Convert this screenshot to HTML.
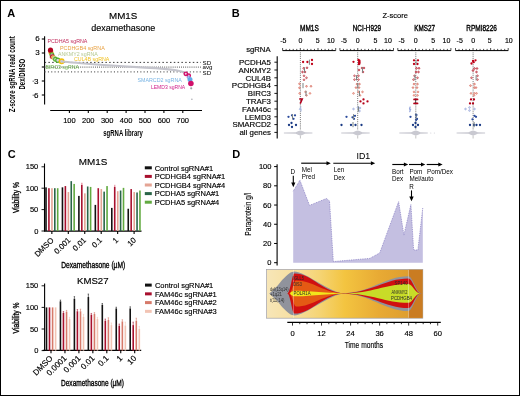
<!DOCTYPE html>
<html><head><meta charset="utf-8"><style>
html,body{margin:0;padding:0;background:#fff;}
body{width:520px;height:396px;overflow:hidden;}
svg{display:block;font-family:"Liberation Sans", sans-serif;will-change:transform;}
</style></head><body>
<svg width="520" height="396" viewBox="0 0 520 396">
<rect x="0" y="0" width="520" height="396" fill="#fff"/>
<text x="7.20" y="16.70" font-size="11" font-weight="bold">A</text>
<text x="123.20" y="19.00" font-size="9.8" stroke="#000" stroke-width="0.15" text-anchor="middle">MM1S</text>
<text x="123.30" y="31.00" font-size="9" stroke="#000" stroke-width="0.15" text-anchor="middle">dexamethasone</text>
<line x1="44.60" y1="36.20" x2="44.60" y2="104.50" stroke="#000" stroke-width="1.1"/>
<line x1="41.80" y1="39.00" x2="44.60" y2="39.00" stroke="#000" stroke-width="1.1"/>
<text x="39.70" y="41.40" font-size="8.0" stroke="#000" stroke-width="0.15" text-anchor="end">6</text>
<line x1="41.80" y1="53.00" x2="44.60" y2="53.00" stroke="#000" stroke-width="1.1"/>
<text x="39.70" y="55.40" font-size="8.0" stroke="#000" stroke-width="0.15" text-anchor="end">3</text>
<line x1="41.80" y1="67.00" x2="44.60" y2="67.00" stroke="#000" stroke-width="1.1"/>
<line x1="41.80" y1="81.00" x2="44.60" y2="81.00" stroke="#000" stroke-width="1.1"/>
<text x="38.40" y="83.60" font-size="8.0" stroke="#000" stroke-width="0.15" text-anchor="end">3</text>
<line x1="32.60" y1="81.20" x2="33.90" y2="81.20" stroke="#333" stroke-width="0.8"/>
<line x1="41.80" y1="95.00" x2="44.60" y2="95.00" stroke="#000" stroke-width="1.1"/>
<text x="38.40" y="97.60" font-size="8.0" stroke="#000" stroke-width="0.15" text-anchor="end">6</text>
<line x1="32.60" y1="95.20" x2="33.90" y2="95.20" stroke="#333" stroke-width="0.8"/>
<text x="15.40" y="74.30" font-size="8.6" text-anchor="middle" font-weight="bold" textLength="76" lengthAdjust="spacingAndGlyphs" transform="rotate(-90 15.40 74.30)">Z-score sgRNA read count</text>
<text x="25.50" y="74.20" font-size="9.2" text-anchor="middle" font-weight="bold" textLength="30.5" lengthAdjust="spacingAndGlyphs" transform="rotate(-90 25.50 74.20)">Dex/DMSO</text>
<line x1="50.20" y1="110.50" x2="202.00" y2="110.50" stroke="#000" stroke-width="1.1"/>
<line x1="69.40" y1="110.50" x2="69.40" y2="113.00" stroke="#000" stroke-width="1.1"/>
<text x="69.40" y="123.20" font-size="7.5" stroke="#000" stroke-width="0.15" text-anchor="middle">100</text>
<line x1="88.30" y1="110.50" x2="88.30" y2="113.00" stroke="#000" stroke-width="1.1"/>
<text x="88.30" y="123.20" font-size="7.5" stroke="#000" stroke-width="0.15" text-anchor="middle">200</text>
<line x1="107.20" y1="110.50" x2="107.20" y2="113.00" stroke="#000" stroke-width="1.1"/>
<text x="107.20" y="123.20" font-size="7.5" stroke="#000" stroke-width="0.15" text-anchor="middle">300</text>
<line x1="126.10" y1="110.50" x2="126.10" y2="113.00" stroke="#000" stroke-width="1.1"/>
<text x="126.10" y="123.20" font-size="7.5" stroke="#000" stroke-width="0.15" text-anchor="middle">400</text>
<line x1="145.00" y1="110.50" x2="145.00" y2="113.00" stroke="#000" stroke-width="1.1"/>
<text x="145.00" y="123.20" font-size="7.5" stroke="#000" stroke-width="0.15" text-anchor="middle">500</text>
<line x1="163.90" y1="110.50" x2="163.90" y2="113.00" stroke="#000" stroke-width="1.1"/>
<text x="163.90" y="123.20" font-size="7.5" stroke="#000" stroke-width="0.15" text-anchor="middle">600</text>
<line x1="182.80" y1="110.50" x2="182.80" y2="113.00" stroke="#000" stroke-width="1.1"/>
<text x="182.80" y="123.20" font-size="7.5" stroke="#000" stroke-width="0.15" text-anchor="middle">700</text>
<text x="123.10" y="136.40" font-size="8.8" text-anchor="middle" font-weight="bold" textLength="39.6" lengthAdjust="spacingAndGlyphs">sgRNA library</text>
<line x1="44.60" y1="62.40" x2="201.00" y2="62.40" stroke="#222" stroke-width="0.9" stroke-dasharray="1.5 2.3"/>
<line x1="44.60" y1="67.10" x2="201.00" y2="67.10" stroke="#555" stroke-width="1.3" stroke-dasharray="0.8 1.3"/>
<line x1="44.60" y1="71.80" x2="201.00" y2="71.80" stroke="#666" stroke-width="1.3" stroke-dasharray="1.1 2.2"/>
<text x="202.50" y="64.70" font-size="6.2">SD</text>
<text x="202.50" y="68.90" font-size="6.2">avg</text>
<text x="202.50" y="75.10" font-size="6.2">SD</text>
<circle cx="51.00" cy="52.40" r="2.50" fill="#f0a020"/>
<circle cx="50.50" cy="50.20" r="2.60" fill="#b0001e"/>
<circle cx="51.90" cy="54.80" r="1.85" fill="#d8d0f0" stroke="#58b030" stroke-width="1.3"/>
<circle cx="51.00" cy="57.10" r="1.60" fill="#f0a0c0"/>
<circle cx="52.40" cy="56.70" r="1.75" fill="#f0e0e0" stroke="#b01030" stroke-width="1.3"/>
<circle cx="53.50" cy="57.60" r="1.75" fill="#f4e8d0" stroke="#f0a030" stroke-width="1.3"/>
<circle cx="54.60" cy="58.30" r="1.75" fill="#eef0e8" stroke="#b8cc90" stroke-width="1.3"/>
<circle cx="55.50" cy="59.20" r="1.85" fill="#e0e8f0" stroke="#58b030" stroke-width="1.3"/>
<circle cx="57.80" cy="60.30" r="2.05" fill="#d8d0f0" stroke="#58b030" stroke-width="1.3"/>
<circle cx="61.60" cy="61.30" r="2.20" fill="#c8c8f0" stroke="#f0c010" stroke-width="1.6"/>
<path d="M61.6 61.5 C70 62.4 80 63.2 100 64.7 S130 66.8 145 67.6 S170 69.2 176 70.2 S184 72 187 74" fill="none" stroke="#c4c4cc" stroke-width="2.1" stroke-linecap="round"/>
<circle cx="185.80" cy="73.80" r="1.70" fill="#f0c8e0" stroke="#d0106a" stroke-width="1.4"/>
<circle cx="188.80" cy="75.60" r="1.60" fill="#f0c8e0" stroke="#d0106a" stroke-width="1.4"/>
<circle cx="188.50" cy="77.30" r="1.30" fill="#c0d8f0" stroke="#9090e0" stroke-width="1.0"/>
<circle cx="190.00" cy="79.40" r="2.50" fill="#64a8e8"/>
<circle cx="190.90" cy="83.50" r="2.80" fill="#d0106a"/>
<circle cx="191.20" cy="88.30" r="1.10" fill="#a0a0a8"/>
<circle cx="191.90" cy="99.20" r="0.70" fill="#a0a0a8"/>
<text x="47.40" y="43.10" font-size="6.1" fill="#c0285a" textLength="40" lengthAdjust="spacingAndGlyphs">PCDHA5 sgRNA</text>
<text x="60.00" y="50.30" font-size="6.1" fill="#e8a040" textLength="44.8" lengthAdjust="spacingAndGlyphs">PCDHGB4 sgRNA</text>
<text x="58.00" y="55.80" font-size="6.1" fill="#b4c890" textLength="39.8" lengthAdjust="spacingAndGlyphs">ANKMY2 sgRNA</text>
<text x="74.00" y="60.70" font-size="6.1" fill="#f0c020" textLength="35.4" lengthAdjust="spacingAndGlyphs">CUL4B sgRNA</text>
<text x="45.40" y="69.30" font-size="6.1" fill="#6cb04c" textLength="33.6" lengthAdjust="spacingAndGlyphs">BIRC3 sgRNA</text>
<text x="137.40" y="81.50" font-size="6.1" fill="#78b4e4" textLength="44.4" lengthAdjust="spacingAndGlyphs">SMARCD2 sgRNA</text>
<text x="150.90" y="89.10" font-size="6.1" fill="#d0208a" textLength="34.3" lengthAdjust="spacingAndGlyphs">LEMD3 sgRNA</text>
<text x="231.80" y="16.70" font-size="11" font-weight="bold">B</text>
<text x="382.50" y="17.70" font-size="7.5" stroke="#000" stroke-width="0.15">Z-score</text>
<text x="246.20" y="52.30" font-size="7.7" stroke="#000" stroke-width="0.15">sgRNA</text>
<line x1="277.20" y1="56.20" x2="277.20" y2="138.60" stroke="#000" stroke-width="1.1"/>
<line x1="274.40" y1="62.20" x2="277.20" y2="62.20" stroke="#000" stroke-width="0.9"/>
<text x="271.00" y="65.05" font-size="7.9" stroke="#000" stroke-width="0.15" text-anchor="end">PCDHA5</text>
<line x1="274.40" y1="70.00" x2="277.20" y2="70.00" stroke="#000" stroke-width="0.9"/>
<text x="271.00" y="72.85" font-size="7.9" stroke="#000" stroke-width="0.15" text-anchor="end">ANKMY2</text>
<line x1="274.40" y1="77.80" x2="277.20" y2="77.80" stroke="#000" stroke-width="0.9"/>
<text x="271.00" y="80.65" font-size="7.9" stroke="#000" stroke-width="0.15" text-anchor="end">CUL4B</text>
<line x1="274.40" y1="85.60" x2="277.20" y2="85.60" stroke="#000" stroke-width="0.9"/>
<text x="271.00" y="88.45" font-size="7.9" stroke="#000" stroke-width="0.15" text-anchor="end" textLength="39.2" lengthAdjust="spacingAndGlyphs">PCDHGB4</text>
<line x1="274.40" y1="93.40" x2="277.20" y2="93.40" stroke="#000" stroke-width="0.9"/>
<text x="271.00" y="96.25" font-size="7.9" stroke="#000" stroke-width="0.15" text-anchor="end">BIRC3</text>
<line x1="274.40" y1="101.20" x2="277.20" y2="101.20" stroke="#000" stroke-width="0.9"/>
<text x="271.00" y="104.05" font-size="7.9" stroke="#000" stroke-width="0.15" text-anchor="end">TRAF3</text>
<line x1="274.40" y1="109.00" x2="277.20" y2="109.00" stroke="#000" stroke-width="0.9"/>
<text x="271.00" y="111.85" font-size="7.9" stroke="#000" stroke-width="0.15" text-anchor="end">FAM46c</text>
<line x1="274.40" y1="116.80" x2="277.20" y2="116.80" stroke="#000" stroke-width="0.9"/>
<text x="271.00" y="119.65" font-size="7.9" stroke="#000" stroke-width="0.15" text-anchor="end">LEMD3</text>
<line x1="274.40" y1="124.60" x2="277.20" y2="124.60" stroke="#000" stroke-width="0.9"/>
<text x="271.00" y="127.45" font-size="7.9" stroke="#000" stroke-width="0.15" text-anchor="end">SMARCD2</text>
<line x1="274.40" y1="132.40" x2="277.20" y2="132.40" stroke="#000" stroke-width="0.9"/>
<text x="271.00" y="135.25" font-size="7.9" stroke="#000" stroke-width="0.15" text-anchor="end">all genes</text>
<line x1="282.60" y1="50.60" x2="335.70" y2="50.60" stroke="#000" stroke-width="1"/>
<line x1="282.60" y1="50.60" x2="282.60" y2="48.00" stroke="#000" stroke-width="0.7"/>
<line x1="286.14" y1="50.60" x2="286.14" y2="48.90" stroke="#000" stroke-width="0.7"/>
<line x1="289.68" y1="50.60" x2="289.68" y2="48.90" stroke="#000" stroke-width="0.7"/>
<line x1="293.22" y1="50.60" x2="293.22" y2="48.90" stroke="#000" stroke-width="0.7"/>
<line x1="296.76" y1="50.60" x2="296.76" y2="48.90" stroke="#000" stroke-width="0.7"/>
<line x1="300.30" y1="50.60" x2="300.30" y2="48.00" stroke="#000" stroke-width="0.7"/>
<line x1="303.84" y1="50.60" x2="303.84" y2="48.90" stroke="#000" stroke-width="0.7"/>
<line x1="307.38" y1="50.60" x2="307.38" y2="48.90" stroke="#000" stroke-width="0.7"/>
<line x1="310.92" y1="50.60" x2="310.92" y2="48.90" stroke="#000" stroke-width="0.7"/>
<line x1="314.46" y1="50.60" x2="314.46" y2="48.90" stroke="#000" stroke-width="0.7"/>
<line x1="318.00" y1="50.60" x2="318.00" y2="48.00" stroke="#000" stroke-width="0.7"/>
<line x1="321.54" y1="50.60" x2="321.54" y2="48.90" stroke="#000" stroke-width="0.7"/>
<line x1="325.08" y1="50.60" x2="325.08" y2="48.90" stroke="#000" stroke-width="0.7"/>
<line x1="328.62" y1="50.60" x2="328.62" y2="48.90" stroke="#000" stroke-width="0.7"/>
<line x1="332.16" y1="50.60" x2="332.16" y2="48.90" stroke="#000" stroke-width="0.7"/>
<line x1="335.70" y1="50.60" x2="335.70" y2="48.00" stroke="#000" stroke-width="0.7"/>
<text x="283.30" y="43.10" font-size="7" stroke="#000" stroke-width="0.15" text-anchor="middle">-5</text>
<text x="300.40" y="43.10" font-size="7" stroke="#000" stroke-width="0.15" text-anchor="middle">0</text>
<text x="317.70" y="43.10" font-size="7" stroke="#000" stroke-width="0.15" text-anchor="middle">5</text>
<text x="330.80" y="43.10" font-size="7" stroke="#000" stroke-width="0.15" text-anchor="middle">10</text>
<text x="309.40" y="30.70" font-size="9.3" stroke="#000" stroke-width="0.4" text-anchor="middle" textLength="18.7" lengthAdjust="spacingAndGlyphs">MM1S</text>
<line x1="300.40" y1="52.50" x2="300.40" y2="130.00" stroke="#333" stroke-width="0.8" stroke-dasharray="0.8 1.1"/>
<path d="M283.9 132.5 L295.8 132.2 Q298.9 130.7 300.4 130.6 Q301.9 130.7 305.0 132.2 L312.4 132.5 L312.4 133.5 L305.0 133.8 Q301.9 135.3 300.4 135.4 Q298.9 135.3 295.8 133.8 L283.9 133.5 Z" fill="#c9c9d1"/>
<line x1="300.40" y1="135.50" x2="300.40" y2="138.50" stroke="#aaa" stroke-width="0.7"/>
<line x1="339.90" y1="50.60" x2="393.50" y2="50.60" stroke="#000" stroke-width="1"/>
<line x1="339.90" y1="50.60" x2="339.90" y2="48.00" stroke="#000" stroke-width="0.7"/>
<line x1="343.47" y1="50.60" x2="343.47" y2="48.90" stroke="#000" stroke-width="0.7"/>
<line x1="347.05" y1="50.60" x2="347.05" y2="48.90" stroke="#000" stroke-width="0.7"/>
<line x1="350.62" y1="50.60" x2="350.62" y2="48.90" stroke="#000" stroke-width="0.7"/>
<line x1="354.19" y1="50.60" x2="354.19" y2="48.90" stroke="#000" stroke-width="0.7"/>
<line x1="357.77" y1="50.60" x2="357.77" y2="48.00" stroke="#000" stroke-width="0.7"/>
<line x1="361.34" y1="50.60" x2="361.34" y2="48.90" stroke="#000" stroke-width="0.7"/>
<line x1="364.91" y1="50.60" x2="364.91" y2="48.90" stroke="#000" stroke-width="0.7"/>
<line x1="368.49" y1="50.60" x2="368.49" y2="48.90" stroke="#000" stroke-width="0.7"/>
<line x1="372.06" y1="50.60" x2="372.06" y2="48.90" stroke="#000" stroke-width="0.7"/>
<line x1="375.63" y1="50.60" x2="375.63" y2="48.00" stroke="#000" stroke-width="0.7"/>
<line x1="379.21" y1="50.60" x2="379.21" y2="48.90" stroke="#000" stroke-width="0.7"/>
<line x1="382.78" y1="50.60" x2="382.78" y2="48.90" stroke="#000" stroke-width="0.7"/>
<line x1="386.35" y1="50.60" x2="386.35" y2="48.90" stroke="#000" stroke-width="0.7"/>
<line x1="389.93" y1="50.60" x2="389.93" y2="48.90" stroke="#000" stroke-width="0.7"/>
<line x1="393.50" y1="50.60" x2="393.50" y2="48.00" stroke="#000" stroke-width="0.7"/>
<text x="343.90" y="43.10" font-size="7" stroke="#000" stroke-width="0.15" text-anchor="middle">-5</text>
<text x="357.70" y="43.10" font-size="7" stroke="#000" stroke-width="0.15" text-anchor="middle">0</text>
<text x="375.50" y="43.10" font-size="7" stroke="#000" stroke-width="0.15" text-anchor="middle">5</text>
<text x="388.00" y="43.10" font-size="7" stroke="#000" stroke-width="0.15" text-anchor="middle">10</text>
<text x="366.90" y="30.70" font-size="9.3" stroke="#000" stroke-width="0.4" text-anchor="middle" textLength="28.3" lengthAdjust="spacingAndGlyphs">NCI-H929</text>
<line x1="357.70" y1="52.50" x2="357.70" y2="130.00" stroke="#333" stroke-width="0.8" stroke-dasharray="0.8 1.1"/>
<path d="M341.2 132.5 L353.1 132.2 Q356.2 130.7 357.7 130.6 Q359.2 130.7 362.3 132.2 L369.7 132.5 L369.7 133.5 L362.3 133.8 Q359.2 135.3 357.7 135.4 Q356.2 135.3 353.1 133.8 L341.2 133.5 Z" fill="#c9c9d1"/>
<line x1="357.70" y1="135.50" x2="357.70" y2="138.50" stroke="#aaa" stroke-width="0.7"/>
<line x1="397.80" y1="50.60" x2="450.90" y2="50.60" stroke="#000" stroke-width="1"/>
<line x1="397.80" y1="50.60" x2="397.80" y2="48.00" stroke="#000" stroke-width="0.7"/>
<line x1="401.34" y1="50.60" x2="401.34" y2="48.90" stroke="#000" stroke-width="0.7"/>
<line x1="404.88" y1="50.60" x2="404.88" y2="48.90" stroke="#000" stroke-width="0.7"/>
<line x1="408.42" y1="50.60" x2="408.42" y2="48.90" stroke="#000" stroke-width="0.7"/>
<line x1="411.96" y1="50.60" x2="411.96" y2="48.90" stroke="#000" stroke-width="0.7"/>
<line x1="415.50" y1="50.60" x2="415.50" y2="48.00" stroke="#000" stroke-width="0.7"/>
<line x1="419.04" y1="50.60" x2="419.04" y2="48.90" stroke="#000" stroke-width="0.7"/>
<line x1="422.58" y1="50.60" x2="422.58" y2="48.90" stroke="#000" stroke-width="0.7"/>
<line x1="426.12" y1="50.60" x2="426.12" y2="48.90" stroke="#000" stroke-width="0.7"/>
<line x1="429.66" y1="50.60" x2="429.66" y2="48.90" stroke="#000" stroke-width="0.7"/>
<line x1="433.20" y1="50.60" x2="433.20" y2="48.00" stroke="#000" stroke-width="0.7"/>
<line x1="436.74" y1="50.60" x2="436.74" y2="48.90" stroke="#000" stroke-width="0.7"/>
<line x1="440.28" y1="50.60" x2="440.28" y2="48.90" stroke="#000" stroke-width="0.7"/>
<line x1="443.82" y1="50.60" x2="443.82" y2="48.90" stroke="#000" stroke-width="0.7"/>
<line x1="447.36" y1="50.60" x2="447.36" y2="48.90" stroke="#000" stroke-width="0.7"/>
<line x1="450.90" y1="50.60" x2="450.90" y2="48.00" stroke="#000" stroke-width="0.7"/>
<text x="401.60" y="43.10" font-size="7" stroke="#000" stroke-width="0.15" text-anchor="middle">-5</text>
<text x="415.80" y="43.10" font-size="7" stroke="#000" stroke-width="0.15" text-anchor="middle">0</text>
<text x="433.10" y="43.10" font-size="7" stroke="#000" stroke-width="0.15" text-anchor="middle">5</text>
<text x="446.40" y="43.10" font-size="7" stroke="#000" stroke-width="0.15" text-anchor="middle">10</text>
<text x="424.60" y="30.70" font-size="9.3" stroke="#000" stroke-width="0.4" text-anchor="middle" textLength="20.7" lengthAdjust="spacingAndGlyphs">KMS27</text>
<line x1="415.80" y1="52.50" x2="415.80" y2="130.00" stroke="#333" stroke-width="0.8" stroke-dasharray="0.8 1.1"/>
<path d="M399.3 132.5 L411.2 132.2 Q414.3 130.7 415.8 130.6 Q417.3 130.7 420.4 132.2 L427.8 132.5 L427.8 133.5 L420.4 133.8 Q417.3 135.3 415.8 135.4 Q414.3 135.3 411.2 133.8 L399.3 133.5 Z" fill="#c9c9d1"/>
<line x1="415.80" y1="135.50" x2="415.80" y2="138.50" stroke="#aaa" stroke-width="0.7"/>
<line x1="455.50" y1="50.60" x2="508.20" y2="50.60" stroke="#000" stroke-width="1"/>
<line x1="455.50" y1="50.60" x2="455.50" y2="48.00" stroke="#000" stroke-width="0.7"/>
<line x1="459.01" y1="50.60" x2="459.01" y2="48.90" stroke="#000" stroke-width="0.7"/>
<line x1="462.53" y1="50.60" x2="462.53" y2="48.90" stroke="#000" stroke-width="0.7"/>
<line x1="466.04" y1="50.60" x2="466.04" y2="48.90" stroke="#000" stroke-width="0.7"/>
<line x1="469.55" y1="50.60" x2="469.55" y2="48.90" stroke="#000" stroke-width="0.7"/>
<line x1="473.07" y1="50.60" x2="473.07" y2="48.00" stroke="#000" stroke-width="0.7"/>
<line x1="476.58" y1="50.60" x2="476.58" y2="48.90" stroke="#000" stroke-width="0.7"/>
<line x1="480.09" y1="50.60" x2="480.09" y2="48.90" stroke="#000" stroke-width="0.7"/>
<line x1="483.61" y1="50.60" x2="483.61" y2="48.90" stroke="#000" stroke-width="0.7"/>
<line x1="487.12" y1="50.60" x2="487.12" y2="48.90" stroke="#000" stroke-width="0.7"/>
<line x1="490.63" y1="50.60" x2="490.63" y2="48.00" stroke="#000" stroke-width="0.7"/>
<line x1="494.15" y1="50.60" x2="494.15" y2="48.90" stroke="#000" stroke-width="0.7"/>
<line x1="497.66" y1="50.60" x2="497.66" y2="48.90" stroke="#000" stroke-width="0.7"/>
<line x1="501.17" y1="50.60" x2="501.17" y2="48.90" stroke="#000" stroke-width="0.7"/>
<line x1="504.69" y1="50.60" x2="504.69" y2="48.90" stroke="#000" stroke-width="0.7"/>
<line x1="508.20" y1="50.60" x2="508.20" y2="48.00" stroke="#000" stroke-width="0.7"/>
<text x="459.70" y="43.10" font-size="7" stroke="#000" stroke-width="0.15" text-anchor="middle">-5</text>
<text x="473.10" y="43.10" font-size="7" stroke="#000" stroke-width="0.15" text-anchor="middle">0</text>
<text x="489.70" y="43.10" font-size="7" stroke="#000" stroke-width="0.15" text-anchor="middle">5</text>
<text x="508.80" y="43.10" font-size="7" stroke="#000" stroke-width="0.15" text-anchor="middle">10</text>
<text x="481.60" y="30.70" font-size="9.3" stroke="#000" stroke-width="0.4" text-anchor="middle" textLength="30.7" lengthAdjust="spacingAndGlyphs">RPMI8226</text>
<line x1="473.10" y1="52.50" x2="473.10" y2="130.00" stroke="#333" stroke-width="0.8" stroke-dasharray="0.8 1.1"/>
<path d="M456.6 132.5 L468.5 132.2 Q471.6 130.7 473.1 130.6 Q474.6 130.7 477.7 132.2 L485.1 132.5 L485.1 133.5 L477.7 133.8 Q474.6 135.3 473.1 135.4 Q471.6 135.3 468.5 133.8 L456.6 133.5 Z" fill="#c9c9d1"/>
<line x1="473.10" y1="135.50" x2="473.10" y2="138.50" stroke="#aaa" stroke-width="0.7"/>
<circle cx="430.80" cy="133.00" r="0.50" fill="#c6c6ce"/>
<rect x="358.3" y="59.6" width="2.2" height="5.2" rx="1" fill="#c00018"/>
<rect x="413.2" y="98.4" width="5.2" height="1.9" rx="0.9" fill="#b40018"/>
<rect x="413.2" y="102.4" width="5.2" height="1.9" rx="0.9" fill="#b40018"/>
<line x1="415.60" y1="99.70" x2="415.60" y2="103.00" stroke="#333" stroke-width="0.8"/>
<path d="M410.4 106.6 q-1.4 1.6 -0.5 3.0 q0.9 1.4 -0.5 2.4 M409.2 109.4 h2" fill="none" stroke="#98a8dc" stroke-width="1.3"/>
<path d="M416.4 113.8 q1.6 1.2 0 2.4 q-1.6 1.2 0 2.4 q1.4 1.0 0 2.2" fill="none" stroke="#2a4a9c" stroke-width="1.0"/>
<circle cx="434.30" cy="133.00" r="0.50" fill="#c6c6ce"/>
<circle cx="303.10" cy="62.00" r="1.15" fill="#c00018"/>
<circle cx="307.40" cy="62.00" r="1.15" fill="#c00018"/>
<circle cx="312.00" cy="60.00" r="1.15" fill="#c00018"/>
<circle cx="312.00" cy="64.00" r="1.15" fill="#c00018"/>
<circle cx="303.70" cy="68.30" r="0.80" fill="#f4e4e4" stroke="#b82030" stroke-width="0.85"/>
<circle cx="307.00" cy="67.80" r="0.80" fill="#f4e4e4" stroke="#b82030" stroke-width="0.85"/>
<circle cx="302.50" cy="72.00" r="0.80" fill="#f4e4e4" stroke="#b82030" stroke-width="0.85"/>
<circle cx="305.00" cy="72.00" r="0.80" fill="#f4e4e4" stroke="#b82030" stroke-width="0.85"/>
<circle cx="304.00" cy="75.80" r="0.80" fill="#f4e4e4" stroke="#c04048" stroke-width="0.85"/>
<circle cx="306.50" cy="77.80" r="0.80" fill="#f4e4e4" stroke="#c04048" stroke-width="0.85"/>
<circle cx="304.00" cy="79.80" r="0.80" fill="#f4e4e4" stroke="#c04048" stroke-width="0.85"/>
<circle cx="299.50" cy="83.80" r="0.80" fill="#f4e4e4" stroke="#d86a5c" stroke-width="0.85"/>
<circle cx="299.50" cy="87.80" r="0.80" fill="#f4e4e4" stroke="#d86a5c" stroke-width="0.85"/>
<circle cx="306.50" cy="86.30" r="0.80" fill="#f4e4e4" stroke="#d86a5c" stroke-width="0.85"/>
<circle cx="311.00" cy="86.30" r="0.80" fill="#f4e4e4" stroke="#d86a5c" stroke-width="0.85"/>
<circle cx="299.60" cy="93.40" r="0.80" fill="#f4e4e4" stroke="#e07a68" stroke-width="0.85"/>
<circle cx="305.50" cy="91.90" r="0.80" fill="#f4e4e4" stroke="#e07a68" stroke-width="0.85"/>
<circle cx="306.50" cy="95.40" r="0.80" fill="#f4e4e4" stroke="#e07a68" stroke-width="0.85"/>
<circle cx="310.00" cy="93.40" r="0.80" fill="#f4e4e4" stroke="#e07a68" stroke-width="0.85"/>
<circle cx="288.50" cy="116.80" r="1.15" fill="#2a4a9c"/>
<circle cx="292.00" cy="115.30" r="1.15" fill="#2a4a9c"/>
<circle cx="295.00" cy="115.30" r="1.15" fill="#2a4a9c"/>
<circle cx="293.50" cy="118.80" r="1.15" fill="#2a4a9c"/>
<circle cx="289.00" cy="125.00" r="1.15" fill="#1a3a84"/>
<circle cx="291.50" cy="123.00" r="1.15" fill="#1a3a84"/>
<circle cx="292.00" cy="127.00" r="1.15" fill="#1a3a84"/>
<circle cx="296.00" cy="125.00" r="1.15" fill="#1a3a84"/>
<circle cx="353.50" cy="61.80" r="1.15" fill="#c00018"/>
<circle cx="358.50" cy="60.00" r="1.15" fill="#c00018"/>
<circle cx="359.20" cy="62.20" r="1.15" fill="#c00018"/>
<circle cx="358.90" cy="64.20" r="1.15" fill="#c00018"/>
<circle cx="359.00" cy="70.00" r="0.80" fill="#f4e4e4" stroke="#b82030" stroke-width="0.85"/>
<circle cx="362.00" cy="68.00" r="0.80" fill="#f4e4e4" stroke="#b82030" stroke-width="0.85"/>
<circle cx="364.00" cy="68.00" r="0.80" fill="#f4e4e4" stroke="#b82030" stroke-width="0.85"/>
<circle cx="363.00" cy="72.00" r="0.80" fill="#f4e4e4" stroke="#b82030" stroke-width="0.85"/>
<circle cx="354.50" cy="75.80" r="0.80" fill="#f4e4e4" stroke="#c04048" stroke-width="0.85"/>
<circle cx="358.50" cy="75.80" r="0.80" fill="#f4e4e4" stroke="#c04048" stroke-width="0.85"/>
<circle cx="354.50" cy="79.60" r="0.80" fill="#f4e4e4" stroke="#c04048" stroke-width="0.85"/>
<circle cx="358.50" cy="79.60" r="0.80" fill="#f4e4e4" stroke="#c04048" stroke-width="0.85"/>
<circle cx="357.00" cy="84.10" r="0.80" fill="#f4e4e4" stroke="#d86a5c" stroke-width="0.85"/>
<circle cx="359.50" cy="84.10" r="0.80" fill="#f4e4e4" stroke="#d86a5c" stroke-width="0.85"/>
<circle cx="356.00" cy="87.60" r="0.80" fill="#f4e4e4" stroke="#d86a5c" stroke-width="0.85"/>
<circle cx="359.00" cy="87.60" r="0.80" fill="#f4e4e4" stroke="#d86a5c" stroke-width="0.85"/>
<circle cx="353.50" cy="93.40" r="0.80" fill="#f4e4e4" stroke="#e07a68" stroke-width="0.85"/>
<circle cx="358.50" cy="91.90" r="0.80" fill="#f4e4e4" stroke="#e07a68" stroke-width="0.85"/>
<circle cx="362.50" cy="91.90" r="0.80" fill="#f4e4e4" stroke="#e07a68" stroke-width="0.85"/>
<circle cx="360.00" cy="95.40" r="0.80" fill="#f4e4e4" stroke="#e07a68" stroke-width="0.85"/>
<circle cx="360.50" cy="101.40" r="1.15" fill="#b40018"/>
<circle cx="363.50" cy="99.40" r="1.15" fill="#b40018"/>
<circle cx="363.50" cy="103.40" r="1.15" fill="#b40018"/>
<circle cx="367.50" cy="101.40" r="1.15" fill="#b40018"/>
<circle cx="353.50" cy="109.00" r="0.80" fill="#eef0fa" stroke="#98a8dc" stroke-width="0.85"/>
<circle cx="358.00" cy="107.50" r="0.80" fill="#eef0fa" stroke="#98a8dc" stroke-width="0.85"/>
<circle cx="360.00" cy="108.00" r="0.80" fill="#eef0fa" stroke="#98a8dc" stroke-width="0.85"/>
<circle cx="359.50" cy="111.00" r="0.80" fill="#eef0fa" stroke="#98a8dc" stroke-width="0.85"/>
<circle cx="346.50" cy="116.80" r="1.15" fill="#2a4a9c"/>
<circle cx="352.50" cy="117.30" r="1.15" fill="#2a4a9c"/>
<circle cx="355.00" cy="115.80" r="1.15" fill="#2a4a9c"/>
<circle cx="354.00" cy="118.80" r="1.15" fill="#2a4a9c"/>
<circle cx="341.50" cy="125.00" r="1.15" fill="#1a3a84"/>
<circle cx="351.00" cy="125.00" r="1.15" fill="#1a3a84"/>
<circle cx="355.50" cy="125.00" r="1.15" fill="#1a3a84"/>
<circle cx="361.50" cy="125.00" r="1.15" fill="#1a3a84"/>
<circle cx="414.00" cy="60.30" r="1.15" fill="#c00018"/>
<circle cx="418.00" cy="60.30" r="1.15" fill="#c00018"/>
<circle cx="414.00" cy="64.00" r="1.15" fill="#c00018"/>
<circle cx="417.50" cy="64.00" r="1.15" fill="#c00018"/>
<circle cx="416.50" cy="68.30" r="0.80" fill="#f4e4e4" stroke="#b82030" stroke-width="0.85"/>
<circle cx="419.00" cy="68.30" r="0.80" fill="#f4e4e4" stroke="#b82030" stroke-width="0.85"/>
<circle cx="416.00" cy="72.00" r="0.80" fill="#f4e4e4" stroke="#b82030" stroke-width="0.85"/>
<circle cx="418.50" cy="72.00" r="0.80" fill="#f4e4e4" stroke="#b82030" stroke-width="0.85"/>
<circle cx="414.50" cy="75.80" r="0.80" fill="#f4e4e4" stroke="#c04048" stroke-width="0.85"/>
<circle cx="417.50" cy="77.80" r="0.80" fill="#f4e4e4" stroke="#c04048" stroke-width="0.85"/>
<circle cx="413.50" cy="79.60" r="0.80" fill="#f4e4e4" stroke="#c04048" stroke-width="0.85"/>
<circle cx="414.00" cy="84.10" r="0.80" fill="#f4e4e4" stroke="#d86a5c" stroke-width="0.85"/>
<circle cx="417.50" cy="84.10" r="0.80" fill="#f4e4e4" stroke="#d86a5c" stroke-width="0.85"/>
<circle cx="413.00" cy="87.60" r="0.80" fill="#f4e4e4" stroke="#d86a5c" stroke-width="0.85"/>
<circle cx="417.00" cy="87.60" r="0.80" fill="#f4e4e4" stroke="#d86a5c" stroke-width="0.85"/>
<circle cx="414.00" cy="91.90" r="0.80" fill="#f4e4e4" stroke="#e07a68" stroke-width="0.85"/>
<circle cx="418.00" cy="91.90" r="0.80" fill="#f4e4e4" stroke="#e07a68" stroke-width="0.85"/>
<circle cx="414.00" cy="95.40" r="0.80" fill="#f4e4e4" stroke="#e07a68" stroke-width="0.85"/>
<circle cx="417.50" cy="95.40" r="0.80" fill="#f4e4e4" stroke="#e07a68" stroke-width="0.85"/>
<circle cx="410.50" cy="116.80" r="1.15" fill="#2a4a9c"/>
<circle cx="416.00" cy="114.80" r="1.15" fill="#2a4a9c"/>
<circle cx="417.00" cy="118.80" r="1.15" fill="#2a4a9c"/>
<circle cx="416.00" cy="119.80" r="1.15" fill="#2a4a9c"/>
<circle cx="413.00" cy="125.00" r="1.15" fill="#1a3a84"/>
<circle cx="415.50" cy="123.00" r="1.15" fill="#1a3a84"/>
<circle cx="418.00" cy="125.00" r="1.15" fill="#1a3a84"/>
<circle cx="415.50" cy="127.00" r="1.15" fill="#1a3a84"/>
<circle cx="473.00" cy="61.00" r="1.15" fill="#c00018"/>
<circle cx="475.50" cy="60.30" r="1.15" fill="#c00018"/>
<circle cx="471.50" cy="63.50" r="1.15" fill="#c00018"/>
<circle cx="473.70" cy="62.20" r="1.15" fill="#c00018"/>
<circle cx="474.50" cy="68.50" r="0.80" fill="#f4e4e4" stroke="#b82030" stroke-width="0.85"/>
<circle cx="477.00" cy="68.50" r="0.80" fill="#f4e4e4" stroke="#b82030" stroke-width="0.85"/>
<circle cx="473.00" cy="70.50" r="0.80" fill="#f4e4e4" stroke="#b82030" stroke-width="0.85"/>
<circle cx="476.50" cy="72.00" r="0.80" fill="#f4e4e4" stroke="#b82030" stroke-width="0.85"/>
<circle cx="471.50" cy="77.80" r="0.80" fill="#f4e4e4" stroke="#c04048" stroke-width="0.85"/>
<circle cx="477.50" cy="75.80" r="0.80" fill="#f4e4e4" stroke="#c04048" stroke-width="0.85"/>
<circle cx="477.50" cy="79.60" r="0.80" fill="#f4e4e4" stroke="#c04048" stroke-width="0.85"/>
<circle cx="470.50" cy="85.60" r="0.80" fill="#f4e4e4" stroke="#d86a5c" stroke-width="0.85"/>
<circle cx="474.50" cy="84.10" r="0.80" fill="#f4e4e4" stroke="#d86a5c" stroke-width="0.85"/>
<circle cx="474.50" cy="87.60" r="0.80" fill="#f4e4e4" stroke="#d86a5c" stroke-width="0.85"/>
<circle cx="476.00" cy="87.60" r="0.80" fill="#f4e4e4" stroke="#d86a5c" stroke-width="0.85"/>
<circle cx="471.00" cy="93.40" r="0.80" fill="#f4e4e4" stroke="#e07a68" stroke-width="0.85"/>
<circle cx="474.50" cy="93.40" r="0.80" fill="#f4e4e4" stroke="#e07a68" stroke-width="0.85"/>
<circle cx="476.50" cy="93.40" r="0.80" fill="#f4e4e4" stroke="#e07a68" stroke-width="0.85"/>
<circle cx="474.00" cy="95.40" r="0.80" fill="#f4e4e4" stroke="#e07a68" stroke-width="0.85"/>
<circle cx="471.00" cy="99.40" r="1.15" fill="#b40018"/>
<circle cx="474.00" cy="99.40" r="1.15" fill="#b40018"/>
<circle cx="470.00" cy="103.40" r="1.15" fill="#b40018"/>
<circle cx="473.00" cy="103.40" r="1.15" fill="#b40018"/>
<circle cx="465.50" cy="109.00" r="0.80" fill="#eef0fa" stroke="#98a8dc" stroke-width="0.85"/>
<circle cx="469.50" cy="107.50" r="0.80" fill="#eef0fa" stroke="#98a8dc" stroke-width="0.85"/>
<circle cx="469.50" cy="110.50" r="0.80" fill="#eef0fa" stroke="#98a8dc" stroke-width="0.85"/>
<circle cx="474.50" cy="109.00" r="0.80" fill="#eef0fa" stroke="#98a8dc" stroke-width="0.85"/>
<circle cx="474.50" cy="115.80" r="1.15" fill="#2a4a9c"/>
<circle cx="476.00" cy="116.80" r="1.15" fill="#2a4a9c"/>
<circle cx="472.50" cy="119.30" r="1.15" fill="#2a4a9c"/>
<circle cx="470.00" cy="125.00" r="1.15" fill="#1a3a84"/>
<circle cx="474.00" cy="125.00" r="1.15" fill="#1a3a84"/>
<circle cx="476.50" cy="125.00" r="1.15" fill="#1a3a84"/>
<circle cx="480.00" cy="125.00" r="1.15" fill="#1a3a84"/>
<path d="M299.2 99.0 h3 l-2 4.6" fill="none" stroke="#b0001e" stroke-width="1.6"/>
<path d="M301.2 106.5 l-1.6 2.6 h2 M301.0 109.0 v2.6" fill="none" stroke="#a8b8e0" stroke-width="1.1"/>
<line x1="309.40" y1="59.60" x2="309.40" y2="64.80" stroke="#7a8484" stroke-width="1.0"/>
<line x1="304.50" y1="67.40" x2="304.50" y2="72.60" stroke="#7a8484" stroke-width="1.0"/>
<line x1="303.00" y1="83.00" x2="303.00" y2="88.20" stroke="#7a8484" stroke-width="1.0"/>
<line x1="306.00" y1="90.80" x2="306.00" y2="96.00" stroke="#7a8484" stroke-width="1.0"/>
<line x1="292.50" y1="114.20" x2="292.50" y2="119.40" stroke="#7a8484" stroke-width="1.0"/>
<line x1="362.50" y1="67.40" x2="362.50" y2="72.60" stroke="#7a8484" stroke-width="1.0"/>
<line x1="356.50" y1="75.20" x2="356.50" y2="80.40" stroke="#7a8484" stroke-width="1.0"/>
<line x1="357.80" y1="83.00" x2="357.80" y2="88.20" stroke="#7a8484" stroke-width="1.0"/>
<line x1="359.50" y1="90.80" x2="359.50" y2="96.00" stroke="#7a8484" stroke-width="1.0"/>
<line x1="358.50" y1="106.40" x2="358.50" y2="111.60" stroke="#7a8484" stroke-width="1.0"/>
<line x1="353.50" y1="114.20" x2="353.50" y2="119.40" stroke="#7a8484" stroke-width="1.0"/>
<line x1="353.00" y1="122.00" x2="353.00" y2="127.20" stroke="#7a8484" stroke-width="1.0"/>
<line x1="416.00" y1="59.60" x2="416.00" y2="64.80" stroke="#7a8484" stroke-width="1.0"/>
<line x1="415.00" y1="75.20" x2="415.00" y2="80.40" stroke="#7a8484" stroke-width="1.0"/>
<line x1="416.00" y1="114.20" x2="416.00" y2="119.40" stroke="#7a8484" stroke-width="1.0"/>
<line x1="476.10" y1="75.20" x2="476.10" y2="80.40" stroke="#7a8484" stroke-width="1.0"/>
<line x1="474.10" y1="122.00" x2="474.10" y2="127.20" stroke="#7a8484" stroke-width="1.0"/>
<text x="7.70" y="157.70" font-size="11" font-weight="bold">C</text>
<text x="93.00" y="164.50" font-size="9.9" stroke="#000" stroke-width="0.15" text-anchor="middle">MM1S</text>
<line x1="44.50" y1="163.50" x2="44.50" y2="231.60" stroke="#000" stroke-width="1.1"/>
<line x1="41.50" y1="166.80" x2="44.50" y2="166.80" stroke="#000" stroke-width="0.9"/>
<text x="38.30" y="169.40" font-size="7.5" stroke="#000" stroke-width="0.15" text-anchor="end">150</text>
<line x1="41.50" y1="188.20" x2="44.50" y2="188.20" stroke="#000" stroke-width="0.9"/>
<text x="38.30" y="190.80" font-size="7.5" stroke="#000" stroke-width="0.15" text-anchor="end">100</text>
<line x1="41.50" y1="209.60" x2="44.50" y2="209.60" stroke="#000" stroke-width="0.9"/>
<text x="38.30" y="212.20" font-size="7.5" stroke="#000" stroke-width="0.15" text-anchor="end">50</text>
<line x1="41.50" y1="231.00" x2="44.50" y2="231.00" stroke="#000" stroke-width="0.9"/>
<text x="38.30" y="233.60" font-size="7.5" stroke="#000" stroke-width="0.15" text-anchor="end">0</text>
<line x1="44.30" y1="231.10" x2="141.50" y2="231.10" stroke="#000" stroke-width="1.1"/>
<text x="19.00" y="197.60" font-size="8.8" stroke="#000" stroke-width="0.35" text-anchor="middle" textLength="31" lengthAdjust="spacingAndGlyphs" transform="rotate(-90 19.00 197.60)">Viability %</text>
<rect x="45.20" y="187.34" width="1.60" height="43.66" fill="#111111"/>
<rect x="48.12" y="188.20" width="1.60" height="42.80" fill="#a8102e"/>
<rect x="51.15" y="188.20" width="1.60" height="42.80" fill="#e4a494"/>
<rect x="54.00" y="188.20" width="1.60" height="42.80" fill="#2a6548"/>
<rect x="56.90" y="188.20" width="1.60" height="42.80" fill="#62aa40"/>
<line x1="51.85" y1="231.10" x2="51.85" y2="234.00" stroke="#000" stroke-width="1.1"/>
<rect x="61.65" y="187.34" width="1.60" height="43.66" fill="#111111"/>
<rect x="64.57" y="186.06" width="1.60" height="44.94" fill="#a8102e"/>
<rect x="67.60" y="192.05" width="1.60" height="38.95" fill="#e4a494"/>
<rect x="70.45" y="181.14" width="1.60" height="49.86" fill="#2a6548"/>
<rect x="73.35" y="183.92" width="1.60" height="47.08" fill="#62aa40"/>
<line x1="68.30" y1="231.10" x2="68.30" y2="234.00" stroke="#000" stroke-width="1.1"/>
<rect x="78.10" y="195.90" width="1.60" height="35.10" fill="#111111"/>
<rect x="81.02" y="184.78" width="1.60" height="46.22" fill="#a8102e"/>
<line x1="81.82" y1="183.06" x2="81.82" y2="184.78" stroke="#e890a0" stroke-width="1.2"/>
<line x1="81.12" y1="183.06" x2="82.52" y2="183.06" stroke="#e890a0" stroke-width="0.5"/>
<rect x="84.05" y="193.34" width="1.60" height="37.66" fill="#e4a494"/>
<rect x="86.90" y="186.49" width="1.60" height="44.51" fill="#2a6548"/>
<rect x="89.80" y="186.92" width="1.60" height="44.08" fill="#62aa40"/>
<line x1="84.75" y1="231.10" x2="84.75" y2="234.00" stroke="#000" stroke-width="1.1"/>
<rect x="94.55" y="204.89" width="1.60" height="26.11" fill="#111111"/>
<rect x="97.47" y="188.20" width="1.60" height="42.80" fill="#a8102e"/>
<rect x="100.50" y="189.06" width="1.60" height="41.94" fill="#e4a494"/>
<rect x="103.35" y="191.62" width="1.60" height="39.38" fill="#2a6548"/>
<rect x="106.25" y="186.06" width="1.60" height="44.94" fill="#62aa40"/>
<line x1="101.20" y1="231.10" x2="101.20" y2="234.00" stroke="#000" stroke-width="1.1"/>
<rect x="111.00" y="207.89" width="1.60" height="23.11" fill="#111111"/>
<rect x="113.92" y="186.92" width="1.60" height="44.08" fill="#a8102e"/>
<line x1="114.72" y1="185.20" x2="114.72" y2="186.92" stroke="#e890a0" stroke-width="1.2"/>
<line x1="114.02" y1="185.20" x2="115.42" y2="185.20" stroke="#e890a0" stroke-width="0.5"/>
<rect x="116.95" y="191.20" width="1.60" height="39.80" fill="#e4a494"/>
<rect x="119.80" y="190.51" width="1.60" height="40.49" fill="#2a6548"/>
<rect x="122.70" y="187.86" width="1.60" height="43.14" fill="#62aa40"/>
<line x1="117.65" y1="231.10" x2="117.65" y2="234.00" stroke="#000" stroke-width="1.1"/>
<rect x="127.45" y="208.74" width="1.60" height="22.26" fill="#111111"/>
<rect x="130.37" y="189.06" width="1.60" height="41.94" fill="#a8102e"/>
<rect x="133.40" y="192.05" width="1.60" height="38.95" fill="#e4a494"/>
<rect x="136.25" y="192.48" width="1.60" height="38.52" fill="#2a6548"/>
<rect x="139.15" y="190.51" width="1.60" height="40.49" fill="#62aa40"/>
<line x1="134.10" y1="231.10" x2="134.10" y2="234.00" stroke="#000" stroke-width="1.1"/>
<text x="54.20" y="240.70" font-size="7.8" stroke="#000" stroke-width="0.15" text-anchor="end" transform="rotate(-45 54.20 240.70)">DMSO</text>
<text x="71.10" y="240.70" font-size="7.8" stroke="#000" stroke-width="0.15" text-anchor="end" transform="rotate(-45 71.10 240.70)">0.001</text>
<text x="86.60" y="240.70" font-size="7.8" stroke="#000" stroke-width="0.15" text-anchor="end" transform="rotate(-45 86.60 240.70)">0.01</text>
<text x="102.70" y="240.70" font-size="7.8" stroke="#000" stroke-width="0.15" text-anchor="end" transform="rotate(-45 102.70 240.70)">0.1</text>
<text x="118.90" y="240.70" font-size="7.8" stroke="#000" stroke-width="0.15" text-anchor="end" transform="rotate(-45 118.90 240.70)">1</text>
<text x="136.70" y="240.70" font-size="7.8" stroke="#000" stroke-width="0.15" text-anchor="end" transform="rotate(-45 136.70 240.70)">10</text>
<text x="93.20" y="267.70" font-size="9.2" stroke="#000" stroke-width="0.35" text-anchor="middle" textLength="64" lengthAdjust="spacingAndGlyphs">Dexamethasone (µM)</text>
<rect x="144.80" y="166.30" width="7.00" height="3.00" fill="#111111"/>
<text x="154.70" y="170.50" font-size="7.5" stroke="#000" stroke-width="0.15">Control sgRNA#1</text>
<rect x="144.80" y="174.90" width="7.00" height="3.00" fill="#a8102e"/>
<text x="154.70" y="179.10" font-size="7.5" stroke="#000" stroke-width="0.15">PCDHGB4 sgRNA#1</text>
<rect x="144.80" y="183.50" width="7.00" height="3.00" fill="#e4a494"/>
<text x="154.70" y="187.70" font-size="7.5" stroke="#000" stroke-width="0.15">PCDHGB4 sgRNA#4</text>
<rect x="144.80" y="192.10" width="7.00" height="3.00" fill="#2a6548"/>
<text x="154.70" y="196.30" font-size="7.5" stroke="#000" stroke-width="0.15">PCDHA5 sgRNA#1</text>
<rect x="144.80" y="200.70" width="7.00" height="3.00" fill="#62aa40"/>
<text x="154.70" y="204.90" font-size="7.5" stroke="#000" stroke-width="0.15">PCDHA5 sgRNA#4</text>
<text x="92.80" y="284.10" font-size="9.6" stroke="#000" stroke-width="0.15" text-anchor="middle">KMS27</text>
<line x1="44.60" y1="283.50" x2="44.60" y2="350.80" stroke="#000" stroke-width="1.1"/>
<line x1="41.60" y1="285.80" x2="44.60" y2="285.80" stroke="#000" stroke-width="0.9"/>
<text x="38.30" y="288.40" font-size="7.5" stroke="#000" stroke-width="0.15" text-anchor="end">150</text>
<line x1="41.60" y1="307.40" x2="44.60" y2="307.40" stroke="#000" stroke-width="0.9"/>
<text x="38.30" y="310.00" font-size="7.5" stroke="#000" stroke-width="0.15" text-anchor="end">100</text>
<line x1="41.60" y1="329.00" x2="44.60" y2="329.00" stroke="#000" stroke-width="0.9"/>
<text x="38.30" y="331.60" font-size="7.5" stroke="#000" stroke-width="0.15" text-anchor="end">50</text>
<line x1="41.60" y1="350.60" x2="44.60" y2="350.60" stroke="#000" stroke-width="0.9"/>
<text x="38.30" y="353.20" font-size="7.5" stroke="#000" stroke-width="0.15" text-anchor="end">0</text>
<line x1="42.70" y1="350.40" x2="141.20" y2="350.40" stroke="#000" stroke-width="1.1"/>
<text x="19.00" y="318.00" font-size="8.8" stroke="#000" stroke-width="0.35" text-anchor="middle" textLength="31" lengthAdjust="spacingAndGlyphs" transform="rotate(-90 19.00 318.00)">Viability %</text>
<rect x="45.70" y="307.40" width="1.60" height="43.20" fill="#111111"/>
<rect x="48.70" y="307.40" width="1.60" height="43.20" fill="#a8102e"/>
<rect x="51.80" y="307.40" width="1.60" height="43.20" fill="#d67a6a"/>
<rect x="54.80" y="307.40" width="1.60" height="43.20" fill="#f2c4b4"/>
<line x1="51.00" y1="350.40" x2="51.00" y2="353.30" stroke="#000" stroke-width="1.1"/>
<rect x="59.65" y="301.35" width="1.60" height="49.25" fill="#111111"/>
<line x1="60.45" y1="300.06" x2="60.45" y2="301.35" stroke="#111111" stroke-width="0.6"/>
<line x1="59.75" y1="300.06" x2="61.15" y2="300.06" stroke="#111111" stroke-width="0.5"/>
<rect x="62.65" y="312.80" width="1.60" height="37.80" fill="#a8102e"/>
<line x1="63.45" y1="311.50" x2="63.45" y2="312.80" stroke="#a8102e" stroke-width="0.6"/>
<line x1="62.75" y1="311.50" x2="64.15" y2="311.50" stroke="#a8102e" stroke-width="0.5"/>
<rect x="65.75" y="311.72" width="1.60" height="38.88" fill="#d67a6a"/>
<line x1="66.55" y1="310.42" x2="66.55" y2="311.72" stroke="#d67a6a" stroke-width="0.6"/>
<line x1="65.85" y1="310.42" x2="67.25" y2="310.42" stroke="#d67a6a" stroke-width="0.5"/>
<rect x="68.75" y="319.06" width="1.60" height="31.54" fill="#f2c4b4"/>
<line x1="69.55" y1="317.34" x2="69.55" y2="319.06" stroke="#f2c4b4" stroke-width="0.6"/>
<line x1="68.85" y1="317.34" x2="70.25" y2="317.34" stroke="#f2c4b4" stroke-width="0.5"/>
<line x1="64.95" y1="350.40" x2="64.95" y2="353.30" stroke="#000" stroke-width="1.1"/>
<rect x="73.60" y="298.76" width="1.60" height="51.84" fill="#111111"/>
<line x1="74.40" y1="296.60" x2="74.40" y2="298.76" stroke="#111111" stroke-width="0.6"/>
<line x1="73.70" y1="296.60" x2="75.10" y2="296.60" stroke="#111111" stroke-width="0.5"/>
<rect x="76.60" y="311.29" width="1.60" height="39.31" fill="#a8102e"/>
<line x1="77.40" y1="309.56" x2="77.40" y2="311.29" stroke="#a8102e" stroke-width="0.6"/>
<line x1="76.70" y1="309.56" x2="78.10" y2="309.56" stroke="#a8102e" stroke-width="0.5"/>
<rect x="79.70" y="311.29" width="1.60" height="39.31" fill="#d67a6a"/>
<line x1="80.50" y1="309.13" x2="80.50" y2="311.29" stroke="#d67a6a" stroke-width="0.6"/>
<line x1="79.80" y1="309.13" x2="81.20" y2="309.13" stroke="#d67a6a" stroke-width="0.5"/>
<rect x="82.70" y="316.90" width="1.60" height="33.70" fill="#f2c4b4"/>
<line x1="83.50" y1="314.31" x2="83.50" y2="316.90" stroke="#f2c4b4" stroke-width="0.6"/>
<line x1="82.80" y1="314.31" x2="84.20" y2="314.31" stroke="#f2c4b4" stroke-width="0.5"/>
<line x1="78.90" y1="350.40" x2="78.90" y2="353.30" stroke="#000" stroke-width="1.1"/>
<rect x="87.55" y="297.03" width="1.60" height="53.57" fill="#111111"/>
<line x1="88.35" y1="294.01" x2="88.35" y2="297.03" stroke="#111111" stroke-width="0.6"/>
<line x1="87.65" y1="294.01" x2="89.05" y2="294.01" stroke="#111111" stroke-width="0.5"/>
<rect x="90.55" y="314.74" width="1.60" height="35.86" fill="#a8102e"/>
<line x1="91.35" y1="313.45" x2="91.35" y2="314.74" stroke="#a8102e" stroke-width="0.6"/>
<line x1="90.65" y1="313.45" x2="92.05" y2="313.45" stroke="#a8102e" stroke-width="0.5"/>
<rect x="93.65" y="313.88" width="1.60" height="36.72" fill="#d67a6a"/>
<line x1="94.45" y1="312.58" x2="94.45" y2="313.88" stroke="#d67a6a" stroke-width="0.6"/>
<line x1="93.75" y1="312.58" x2="95.15" y2="312.58" stroke="#d67a6a" stroke-width="0.5"/>
<rect x="96.65" y="319.06" width="1.60" height="31.54" fill="#f2c4b4"/>
<line x1="97.45" y1="317.34" x2="97.45" y2="319.06" stroke="#f2c4b4" stroke-width="0.6"/>
<line x1="96.75" y1="317.34" x2="98.15" y2="317.34" stroke="#f2c4b4" stroke-width="0.5"/>
<line x1="92.85" y1="350.40" x2="92.85" y2="353.30" stroke="#000" stroke-width="1.1"/>
<rect x="101.50" y="304.81" width="1.60" height="45.79" fill="#111111"/>
<line x1="102.30" y1="303.51" x2="102.30" y2="304.81" stroke="#111111" stroke-width="0.6"/>
<line x1="101.60" y1="303.51" x2="103.00" y2="303.51" stroke="#111111" stroke-width="0.5"/>
<rect x="104.50" y="320.79" width="1.60" height="29.81" fill="#a8102e"/>
<line x1="105.30" y1="319.06" x2="105.30" y2="320.79" stroke="#a8102e" stroke-width="0.6"/>
<line x1="104.60" y1="319.06" x2="106.00" y2="319.06" stroke="#a8102e" stroke-width="0.5"/>
<rect x="107.60" y="319.93" width="1.60" height="30.67" fill="#d67a6a"/>
<line x1="108.40" y1="317.77" x2="108.40" y2="319.93" stroke="#d67a6a" stroke-width="0.6"/>
<line x1="107.70" y1="317.77" x2="109.10" y2="317.77" stroke="#d67a6a" stroke-width="0.5"/>
<rect x="110.60" y="325.11" width="1.60" height="25.49" fill="#f2c4b4"/>
<line x1="111.40" y1="322.95" x2="111.40" y2="325.11" stroke="#f2c4b4" stroke-width="0.6"/>
<line x1="110.70" y1="322.95" x2="112.10" y2="322.95" stroke="#f2c4b4" stroke-width="0.5"/>
<line x1="106.80" y1="350.40" x2="106.80" y2="353.30" stroke="#000" stroke-width="1.1"/>
<rect x="115.45" y="308.48" width="1.60" height="42.12" fill="#111111"/>
<line x1="116.25" y1="307.18" x2="116.25" y2="308.48" stroke="#111111" stroke-width="0.6"/>
<line x1="115.55" y1="307.18" x2="116.95" y2="307.18" stroke="#111111" stroke-width="0.5"/>
<rect x="118.45" y="325.76" width="1.60" height="24.84" fill="#a8102e"/>
<line x1="119.25" y1="324.03" x2="119.25" y2="325.76" stroke="#a8102e" stroke-width="0.6"/>
<line x1="118.55" y1="324.03" x2="119.95" y2="324.03" stroke="#a8102e" stroke-width="0.5"/>
<rect x="121.55" y="321.44" width="1.60" height="29.16" fill="#d67a6a"/>
<line x1="122.35" y1="319.71" x2="122.35" y2="321.44" stroke="#d67a6a" stroke-width="0.6"/>
<line x1="121.65" y1="319.71" x2="123.05" y2="319.71" stroke="#d67a6a" stroke-width="0.5"/>
<rect x="124.55" y="325.54" width="1.60" height="25.06" fill="#f2c4b4"/>
<line x1="125.35" y1="322.09" x2="125.35" y2="325.54" stroke="#f2c4b4" stroke-width="0.6"/>
<line x1="124.65" y1="322.09" x2="126.05" y2="322.09" stroke="#f2c4b4" stroke-width="0.5"/>
<line x1="120.75" y1="350.40" x2="120.75" y2="353.30" stroke="#000" stroke-width="1.1"/>
<rect x="129.40" y="308.48" width="1.60" height="42.12" fill="#111111"/>
<line x1="130.20" y1="306.75" x2="130.20" y2="308.48" stroke="#111111" stroke-width="0.6"/>
<line x1="129.50" y1="306.75" x2="130.90" y2="306.75" stroke="#111111" stroke-width="0.5"/>
<rect x="132.40" y="325.11" width="1.60" height="25.49" fill="#a8102e"/>
<line x1="133.20" y1="322.09" x2="133.20" y2="325.11" stroke="#a8102e" stroke-width="0.6"/>
<line x1="132.50" y1="322.09" x2="133.90" y2="322.09" stroke="#a8102e" stroke-width="0.5"/>
<rect x="135.50" y="320.79" width="1.60" height="29.81" fill="#d67a6a"/>
<line x1="136.30" y1="318.20" x2="136.30" y2="320.79" stroke="#d67a6a" stroke-width="0.6"/>
<line x1="135.60" y1="318.20" x2="137.00" y2="318.20" stroke="#d67a6a" stroke-width="0.5"/>
<rect x="138.50" y="329.00" width="1.60" height="21.60" fill="#f2c4b4"/>
<line x1="139.30" y1="326.41" x2="139.30" y2="329.00" stroke="#f2c4b4" stroke-width="0.6"/>
<line x1="138.60" y1="326.41" x2="140.00" y2="326.41" stroke="#f2c4b4" stroke-width="0.5"/>
<line x1="134.70" y1="350.40" x2="134.70" y2="353.30" stroke="#000" stroke-width="1.1"/>
<text x="53.30" y="358.80" font-size="8.1" stroke="#000" stroke-width="0.15" text-anchor="end" transform="rotate(-45 53.30 358.80)">DMSO</text>
<text x="67.25" y="358.80" font-size="8.1" stroke="#000" stroke-width="0.15" text-anchor="end" transform="rotate(-45 67.25 358.80)">0.0001</text>
<text x="81.20" y="358.80" font-size="8.1" stroke="#000" stroke-width="0.15" text-anchor="end" transform="rotate(-45 81.20 358.80)">0.001</text>
<text x="95.15" y="358.80" font-size="8.1" stroke="#000" stroke-width="0.15" text-anchor="end" transform="rotate(-45 95.15 358.80)">0.01</text>
<text x="109.10" y="358.80" font-size="8.1" stroke="#000" stroke-width="0.15" text-anchor="end" transform="rotate(-45 109.10 358.80)">0.1</text>
<text x="123.05" y="358.80" font-size="8.1" stroke="#000" stroke-width="0.15" text-anchor="end" transform="rotate(-45 123.05 358.80)">1</text>
<text x="137.00" y="358.80" font-size="8.1" stroke="#000" stroke-width="0.15" text-anchor="end" transform="rotate(-45 137.00 358.80)">10</text>
<text x="92.50" y="386.30" font-size="9.2" stroke="#000" stroke-width="0.35" text-anchor="middle" textLength="63" lengthAdjust="spacingAndGlyphs">Dexamethasone (µM)</text>
<rect x="145.00" y="283.60" width="6.70" height="3.00" fill="#111111"/>
<text x="154.90" y="287.80" font-size="7.5" stroke="#000" stroke-width="0.15">Control sgRNA#1</text>
<rect x="145.00" y="292.35" width="6.70" height="3.00" fill="#a8102e"/>
<text x="154.90" y="296.55" font-size="7.5" stroke="#000" stroke-width="0.15">FAM46c sgRNA#1</text>
<rect x="145.00" y="301.10" width="6.70" height="3.00" fill="#d67a6a"/>
<text x="154.90" y="305.30" font-size="7.5" stroke="#000" stroke-width="0.15">FAM46c sgRNA#2</text>
<rect x="145.00" y="309.85" width="6.70" height="3.00" fill="#f2c4b4"/>
<text x="154.90" y="314.05" font-size="7.5" stroke="#000" stroke-width="0.15">FAM46c sgRNA#3</text>
<text x="232.30" y="157.70" font-size="11" font-weight="bold">D</text>
<text x="363.30" y="158.70" font-size="8.8" stroke="#000" stroke-width="0.05" text-anchor="middle">ID1</text>
<path d="M293.2 262.7 L293.2 191.2 L299.9 180.3 L309.5 205.4 L326.5 198.5 L329.5 201.0 L333.3 261.6 L369.7 258.4 L379.7 253.0 L398.6 201.7 L403.9 235.2 L410.9 204.6 L413.6 249.9 L417.9 250.1 L422.8 207.7 L422.8 262.7 Z" fill="#c4bfe1"/>
<path d="M293.2 191.2 L299.9 180.3 L309.5 205.4 L326.5 198.5 L329.5 201.0 L333.3 261.6 L369.7 258.4 L379.7 253.0 L398.6 201.7 L403.9 235.2 L410.9 204.6 L413.6 249.9 L417.9 250.1 L422.8 207.7" fill="none" stroke="#8e86c6" stroke-width="0.9" stroke-dasharray="0.9 0.9"/>
<line x1="277.10" y1="164.20" x2="277.10" y2="265.40" stroke="#000" stroke-width="1.1"/>
<line x1="274.10" y1="166.60" x2="277.10" y2="166.60" stroke="#000" stroke-width="1.0"/>
<text x="271.40" y="169.20" font-size="7.5" stroke="#000" stroke-width="0.15" text-anchor="end">100</text>
<line x1="274.10" y1="185.82" x2="277.10" y2="185.82" stroke="#000" stroke-width="1.0"/>
<text x="271.40" y="188.42" font-size="7.5" stroke="#000" stroke-width="0.15" text-anchor="end">80</text>
<line x1="274.10" y1="205.04" x2="277.10" y2="205.04" stroke="#000" stroke-width="1.0"/>
<text x="271.40" y="207.64" font-size="7.5" stroke="#000" stroke-width="0.15" text-anchor="end">60</text>
<line x1="274.10" y1="224.26" x2="277.10" y2="224.26" stroke="#000" stroke-width="1.0"/>
<text x="271.40" y="226.86" font-size="7.5" stroke="#000" stroke-width="0.15" text-anchor="end">40</text>
<line x1="274.10" y1="243.48" x2="277.10" y2="243.48" stroke="#000" stroke-width="1.0"/>
<text x="271.40" y="246.08" font-size="7.5" stroke="#000" stroke-width="0.15" text-anchor="end">20</text>
<line x1="274.10" y1="262.70" x2="277.10" y2="262.70" stroke="#000" stroke-width="1.0"/>
<text x="271.40" y="265.30" font-size="7.5" stroke="#000" stroke-width="0.15" text-anchor="end">0</text>
<text x="250.80" y="214.20" font-size="8.5" stroke="#000" stroke-width="0.12" text-anchor="middle" textLength="43" lengthAdjust="spacingAndGlyphs" transform="rotate(-90 250.80 214.20)">Paraprotein g/l</text>
<line x1="301.20" y1="163.20" x2="327.80" y2="163.20" stroke="#000" stroke-width="1.15"/>
<path d="M330.8 163.2 L326.5 161.2 L326.5 165.2 Z" fill="#000"/>
<line x1="333.30" y1="163.20" x2="372.20" y2="163.20" stroke="#000" stroke-width="1.15"/>
<path d="M375.2 163.2 L370.9 161.2 L370.9 165.2 Z" fill="#000"/>
<line x1="392.30" y1="164.50" x2="405.20" y2="164.50" stroke="#000" stroke-width="1.15"/>
<path d="M408.2 164.5 L403.9 162.5 L403.9 166.5 Z" fill="#000"/>
<line x1="409.00" y1="164.50" x2="422.30" y2="164.50" stroke="#000" stroke-width="1.15"/>
<path d="M425.3 164.5 L421.0 162.5 L421.0 166.5 Z" fill="#000"/>
<line x1="426.70" y1="164.50" x2="439.60" y2="164.50" stroke="#000" stroke-width="1.15"/>
<path d="M442.6 164.5 L438.3 162.5 L438.3 166.5 Z" fill="#000"/>
<text x="301.80" y="171.90" font-size="6.3">Mel</text>
<text x="301.80" y="179.10" font-size="6.3">Pred</text>
<text x="333.80" y="172.20" font-size="6.3">Len</text>
<text x="333.80" y="179.50" font-size="6.3">Dex</text>
<text x="392.00" y="173.50" font-size="6.3">Bort</text>
<text x="392.00" y="180.90" font-size="6.3">Dex</text>
<text x="409.40" y="173.50" font-size="6.3">Pom</text>
<text x="409.40" y="180.90" font-size="6.3">Mel/auto</text>
<text x="427.00" y="173.50" font-size="6.3">Pom/Dex</text>
<text x="292.90" y="173.80" font-size="6.3" text-anchor="middle">D</text>
<line x1="293.30" y1="175.80" x2="293.30" y2="183.50" stroke="#000" stroke-width="1.1"/>
<path d="M293.3 187.2 L291.2 182.6 L295.4 182.6 Z" fill="#000"/>
<text x="411.50" y="189.20" font-size="6.3" text-anchor="middle">R</text>
<line x1="411.50" y1="190.40" x2="411.50" y2="197.50" stroke="#000" stroke-width="1.1"/>
<path d="M411.5 201.2 L409.3 196.4 L413.7 196.4 Z" fill="#000"/>
<defs>
<linearGradient id="bg" x1="0" y1="0" x2="1" y2="0">
<stop offset="0" stop-color="#f7e6b8"/>
<stop offset="0.16" stop-color="#f7e0a2"/>
<stop offset="0.34" stop-color="#f5d474"/>
<stop offset="0.5" stop-color="#f3c440"/>
<stop offset="0.72" stop-color="#e8aa34"/>
<stop offset="1" stop-color="#da982c"/>
</linearGradient>
</defs>
<rect x="266.6" y="269.4" width="156.2" height="48.8" fill="url(#bg)" stroke="#a0a0a8" stroke-width="0.7"/>
<rect x="408.60" y="269.80" width="14.00" height="48.00" fill="#ca7c22"/>
<path d="M269.3 293.5 C269.7 293.2 270.7 292.4 271.5 291.6 C272.3 290.9 273.0 290.1 274.1 289.0 C275.2 287.9 276.8 286.5 278.1 285.0 C279.4 283.5 280.8 281.6 282.1 280.1 C283.5 278.6 284.9 277.3 286.2 276.1 C287.5 274.9 288.9 273.6 290.2 272.8 C291.5 272.0 293.4 271.7 294.0 271.5 C306 271.5 330 293.3 345 293.5 C330 293.7 306 315.5 294 315.5 L294.0 315.5 C293.4 315.3 291.5 315.0 290.2 314.2 C288.9 313.4 287.5 312.1 286.2 310.9 C284.9 309.7 283.5 308.4 282.1 306.9 C280.8 305.4 279.4 303.5 278.1 302.0 C276.8 300.5 275.2 299.1 274.1 298.0 C273.0 296.9 272.3 296.1 271.5 295.4 C270.7 294.6 269.7 293.8 269.3 293.5 Z" fill="#90939c"/>
<path d="M287.2 293.4 C290.5 293.4 291.9 273.5 294.5 273.5 C312.5 273.5 322.8 293.4 346.0 293.4 C322.8 293.4 312.5 313.6 294.5 313.6 C291.9 313.6 290.5 293.4 287.2 293.4 Z" fill="#d01010"/>
<path d="M289.0 293.4 C292.1 293.4 293.6 280.5 296.0 280.5 C313.5 280.5 323.5 293.4 346.0 293.4 C323.5 293.4 313.5 306.5 296.0 306.5 C293.6 306.5 292.1 293.4 289.0 293.4 Z" fill="#e45a14"/>
<path d="M290 293.4 C291 292 292.5 290.8 296 290.8 C306 290.8 330 293.2 347 293.4 C330 293.6 306 296.3 296 296.3 C292.5 296.3 291 295 290 293.4 Z" fill="#f2e61c"/>
<path d="M340.0 293.4 C370.7 293.4 384.4 276.3 408.3 276.3 C413.0 276.3 415.7 293.4 421.8 293.4 C415.7 293.4 413.0 311.0 408.3 311.0 C384.4 311.0 370.7 293.4 340.0 293.4 Z" fill="#90939c"/>
<path d="M341.0 293.4 C371.3 293.4 384.7 278.6 408.3 278.6 C412.7 278.6 415.3 293.4 421.0 293.4 C415.3 293.4 412.7 308.0 408.3 308.0 C384.7 308.0 371.3 293.4 341.0 293.4 Z" fill="#d01010"/>
<path d="M343.0 293.4 C372.4 293.4 385.4 284.0 408.3 284.0 C412.6 284.0 415.0 293.4 420.5 293.4 C415.0 293.4 412.6 302.8 408.3 302.8 C385.4 302.8 372.4 293.4 343.0 293.4 Z" fill="#c8dc28"/>
<line x1="293.50" y1="269.90" x2="293.50" y2="317.70" stroke="#ffffff" stroke-width="0.7" opacity="0.45"/>
<line x1="408.60" y1="269.90" x2="408.60" y2="317.70" stroke="#ffffff" stroke-width="0.7" opacity="0.5"/>
<text x="270.00" y="291.10" font-size="4.6" fill="#333" textLength="18.5" lengthAdjust="spacingAndGlyphs">del(13q14)</text>
<text x="270.00" y="296.20" font-size="4.6" fill="#333" textLength="12" lengthAdjust="spacingAndGlyphs">+1q21</text>
<text x="270.00" y="301.50" font-size="4.6" fill="#333" textLength="14.5" lengthAdjust="spacingAndGlyphs">t(11;14)</text>
<text x="293.20" y="280.20" font-size="4.6" fill="#2a2a2a" textLength="10.8" lengthAdjust="spacingAndGlyphs">IGLL5</text>
<text x="293.20" y="285.80" font-size="4.6" fill="#2a2a2a" textLength="8.6" lengthAdjust="spacingAndGlyphs">DIS3</text>
<text x="293.60" y="295.40" font-size="4.6" fill="#2a2a2a" textLength="17" lengthAdjust="spacingAndGlyphs">POLR1A</text>
<text x="394.60" y="285.20" font-size="4.6" fill="#2a2a2a" textLength="13" lengthAdjust="spacingAndGlyphs">SP140</text>
<text x="391.50" y="294.40" font-size="4.6" fill="#2a2a2a" textLength="16" lengthAdjust="spacingAndGlyphs">ANKMY2</text>
<text x="391.00" y="299.50" font-size="4.6" fill="#2a2a2a" textLength="21" lengthAdjust="spacingAndGlyphs">PCDHGB4</text>
<line x1="287.30" y1="322.40" x2="440.80" y2="322.40" stroke="#000" stroke-width="1.1"/>
<line x1="292.50" y1="322.40" x2="292.50" y2="325.60" stroke="#000" stroke-width="0.8"/>
<text x="292.50" y="335.70" font-size="7.6" stroke="#000" stroke-width="0.15" text-anchor="middle">0</text>
<line x1="299.76" y1="322.40" x2="299.76" y2="324.20" stroke="#000" stroke-width="0.8"/>
<line x1="307.02" y1="322.40" x2="307.02" y2="324.20" stroke="#000" stroke-width="0.8"/>
<line x1="314.28" y1="322.40" x2="314.28" y2="324.20" stroke="#000" stroke-width="0.8"/>
<line x1="321.54" y1="322.40" x2="321.54" y2="325.60" stroke="#000" stroke-width="0.8"/>
<text x="321.54" y="335.70" font-size="7.6" stroke="#000" stroke-width="0.15" text-anchor="middle">12</text>
<line x1="328.80" y1="322.40" x2="328.80" y2="324.20" stroke="#000" stroke-width="0.8"/>
<line x1="336.06" y1="322.40" x2="336.06" y2="324.20" stroke="#000" stroke-width="0.8"/>
<line x1="343.32" y1="322.40" x2="343.32" y2="324.20" stroke="#000" stroke-width="0.8"/>
<line x1="350.58" y1="322.40" x2="350.58" y2="325.60" stroke="#000" stroke-width="0.8"/>
<text x="350.58" y="335.70" font-size="7.6" stroke="#000" stroke-width="0.15" text-anchor="middle">24</text>
<line x1="357.84" y1="322.40" x2="357.84" y2="324.20" stroke="#000" stroke-width="0.8"/>
<line x1="365.10" y1="322.40" x2="365.10" y2="324.20" stroke="#000" stroke-width="0.8"/>
<line x1="372.36" y1="322.40" x2="372.36" y2="324.20" stroke="#000" stroke-width="0.8"/>
<line x1="379.62" y1="322.40" x2="379.62" y2="325.60" stroke="#000" stroke-width="0.8"/>
<text x="379.62" y="335.70" font-size="7.6" stroke="#000" stroke-width="0.15" text-anchor="middle">36</text>
<line x1="386.88" y1="322.40" x2="386.88" y2="324.20" stroke="#000" stroke-width="0.8"/>
<line x1="394.14" y1="322.40" x2="394.14" y2="324.20" stroke="#000" stroke-width="0.8"/>
<line x1="401.40" y1="322.40" x2="401.40" y2="324.20" stroke="#000" stroke-width="0.8"/>
<line x1="408.66" y1="322.40" x2="408.66" y2="325.60" stroke="#000" stroke-width="0.8"/>
<text x="408.66" y="335.70" font-size="7.6" stroke="#000" stroke-width="0.15" text-anchor="middle">48</text>
<line x1="415.92" y1="322.40" x2="415.92" y2="324.20" stroke="#000" stroke-width="0.8"/>
<line x1="423.18" y1="322.40" x2="423.18" y2="324.20" stroke="#000" stroke-width="0.8"/>
<line x1="430.44" y1="322.40" x2="430.44" y2="324.20" stroke="#000" stroke-width="0.8"/>
<line x1="437.70" y1="322.40" x2="437.70" y2="325.60" stroke="#000" stroke-width="0.8"/>
<text x="437.70" y="335.70" font-size="7.6" stroke="#000" stroke-width="0.15" text-anchor="middle">60</text>
<text x="363.90" y="348.00" font-size="9.2" stroke="#000" stroke-width="0.15" text-anchor="middle" textLength="38.3" lengthAdjust="spacingAndGlyphs">Time months</text>
<rect x="0.5" y="0.5" width="519" height="395" fill="none" stroke="#000" stroke-width="1"/>
</svg>
</body></html>
